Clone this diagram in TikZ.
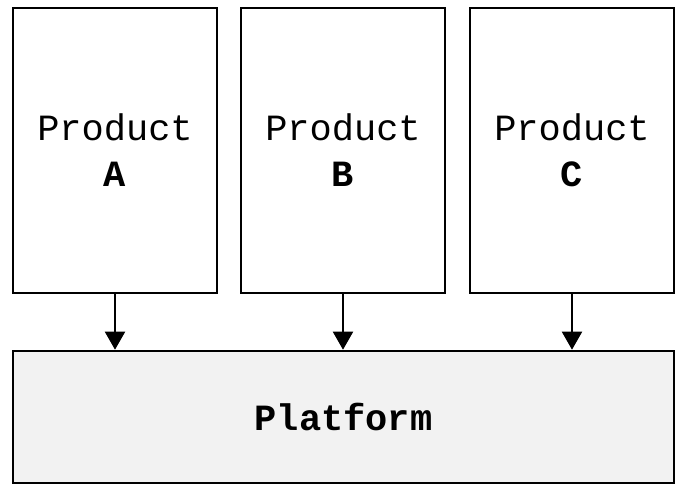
\documentclass[tikz,border=0pt]{standalone}
\usepackage{fontspec}
\setmonofont{Liberation Mono}
\usetikzlibrary{arrows.meta}
\begin{document}
\begin{tikzpicture}[x=1pt,y=-1pt,
  prodbox/.style={draw=black,line width=2.6pt,fill=white,minimum width=204pt,minimum height=285pt,inner sep=0pt,align=center,font=\ttfamily\fontsize{37}{46}\selectfont},
  platbox/.style={draw=black,line width=2.6pt,fill=black!5,minimum width=661pt,minimum height=132pt,inner sep=0pt,font=\ttfamily\bfseries\fontsize{37}{46}\selectfont},
  link/.style={line width=2pt,-{Triangle[length=18pt,width=20pt]}}]
\useasboundingbox (0,0) rectangle (693,491);
\node[prodbox] (a) at (115,150.5) {Product\\\textbf{A}};
\node[prodbox] (b) at (343,150.5) {Product\\\textbf{B}};
\node[prodbox] (c) at (572,150.5) {Product\\\textbf{C}};
\node[platbox] (p) at (343.5,417) {Platform};
\draw[link] (a.south) -- (a.south |- p.north);
\draw[link] (b.south) -- (b.south |- p.north);
\draw[link] (c.south) -- (c.south |- p.north);
\end{tikzpicture}
\end{document}
